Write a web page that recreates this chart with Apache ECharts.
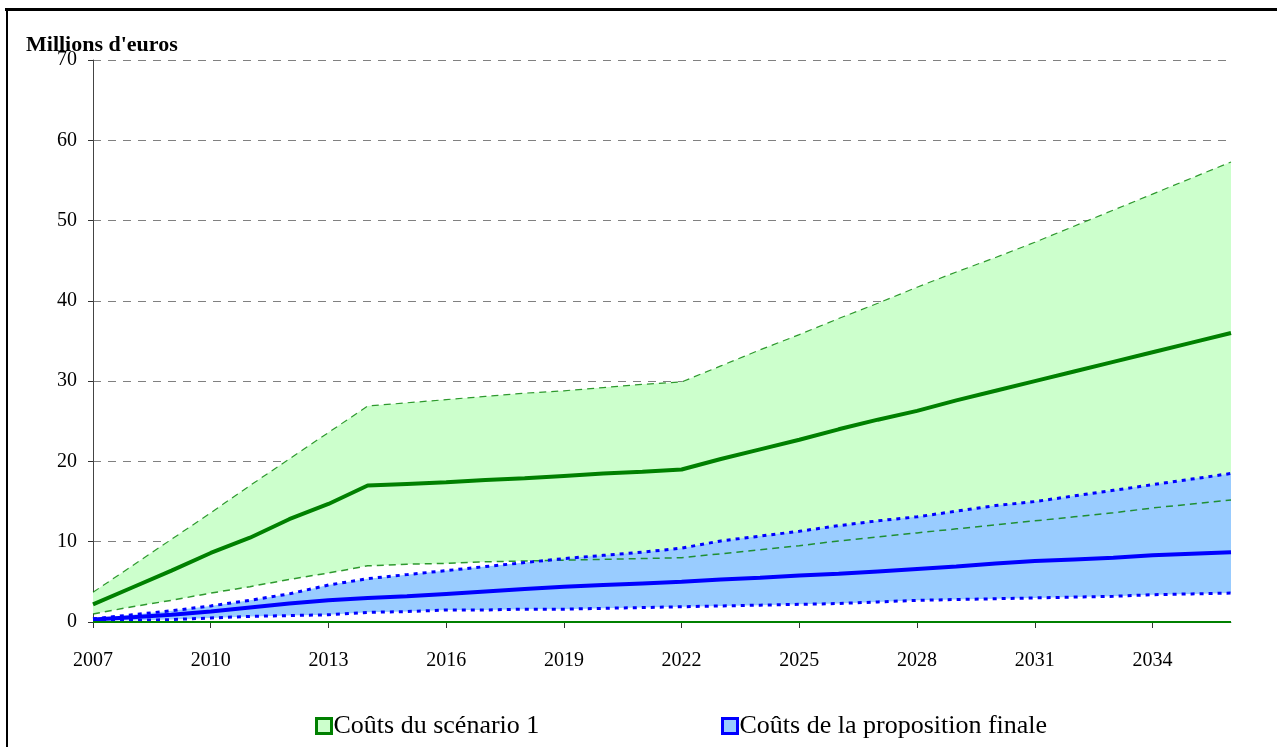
<!DOCTYPE html>
<html>
<head>
<meta charset="utf-8">
<script src="https://cdn.jsdelivr.net/npm/echarts@6/dist/echarts.min.js"></script>
<style>
  html, body { margin: 0; padding: 0; background: #fff; }
  #chart { width: 1277px; height: 747px; }
</style>
</head>
<body>
<div id="chart"></div>
<script>
// Years on the horizontal axis
const years = [];
for (let y = 2007; y <= 2036; y++) years.push(String(y));

// Scenario 1 costs (millions of euros): low, central, high
const scenarioLow = [1.0, 1.9, 2.7, 3.6, 4.4, 5.3, 6.1, 7.0, 7.2, 7.3, 7.5, 7.6, 7.7, 7.8, 7.9, 8.0,
  8.5, 9.0, 9.5, 10.1, 10.6, 11.1, 11.6, 12.1, 12.6, 13.1, 13.6, 14.2, 14.7, 15.2];
const scenarioMid = [2.2, 4.3, 6.4, 8.6, 10.5, 12.8, 14.7, 17.0, 17.2, 17.4, 17.7, 17.9, 18.2, 18.5, 18.7, 19.0,
  20.3, 21.5, 22.7, 24.0, 25.2, 26.3, 27.6, 28.8, 30.0, 31.2, 32.4, 33.6, 34.8, 36.0];
const scenarioHigh = [3.7, 7.0, 10.3, 13.6, 17.0, 20.3, 23.6, 26.9, 27.3, 27.7, 28.1, 28.5, 28.8, 29.2, 29.6, 29.9,
  31.9, 33.9, 35.8, 37.8, 39.7, 41.7, 43.6, 45.4, 47.3, 49.3, 51.3, 53.3, 55.3, 57.3];

// Final proposal costs (millions of euros): low, central, high
const finalLow = [0.2, 0.2, 0.3, 0.5, 0.7, 0.8, 0.9, 1.2, 1.3, 1.5, 1.5, 1.6, 1.6, 1.7, 1.8, 1.9,
  2.0, 2.1, 2.2, 2.3, 2.5, 2.7, 2.8, 2.9, 3.0, 3.1, 3.2, 3.4, 3.5, 3.6];
const finalMid = [0.3, 0.6, 0.9, 1.3, 1.8, 2.3, 2.7, 3.0, 3.2, 3.5, 3.8, 4.1, 4.4, 4.6, 4.8, 5.0,
  5.3, 5.5, 5.8, 6.0, 6.3, 6.6, 6.9, 7.3, 7.6, 7.8, 8.0, 8.3, 8.5, 8.7];
const finalHigh = [0.4, 0.9, 1.4, 2.0, 2.7, 3.5, 4.6, 5.4, 5.9, 6.4, 6.9, 7.4, 7.9, 8.3, 8.7, 9.2,
  10.1, 10.7, 11.3, 12.0, 12.6, 13.1, 13.8, 14.5, 15.0, 15.7, 16.4, 17.1, 17.8, 18.5];

const zeroLine = years.map(() => 0);

const seriesNames = ['Coûts du scénario 1', 'Coûts de la proposition finale'];

const GREEN = '#008000';
const BLUE = '#0000ff';
const GREEN_FILL = '#ccffcc';
const BLUE_FILL = '#99ccff';
const FONT = '"Liberation Serif", "DejaVu Serif", serif';

// band thickness for the stacked areas
const diff = (hi, lo) => hi.map((v, i) => Math.round((v - lo[i]) * 10) / 10);

const hidden = { lineStyle: { width: 0, opacity: 0 }, showSymbol: false, symbol: 'none' };

const chart = echarts.init(document.getElementById('chart'), null, { renderer: 'canvas' });

const legendText = { fontFamily: FONT, fontSize: 26, color: '#000', padding: [0, 0, 0, -3] };

chart.setOption({
  animation: false,
  backgroundColor: '#ffffff',
  title: {
    text: "Millions d'euros",
    left: 21, top: 29,
    textStyle: { fontFamily: FONT, fontWeight: 'bold', fontSize: 22, color: '#000' }
  },
  grid: { left: 93, right: 46, top: 60, bottom: 125, containLabel: false },
  legend: [
    {
      left: 310, top: 708,
      icon: 'rect', itemWidth: 15, itemHeight: 15, itemGap: 10,
      textStyle: legendText,
      data: [{ name: seriesNames[0], itemStyle: { color: GREEN_FILL, borderColor: GREEN, borderWidth: 3 } }]
    },
    {
      left: 716, top: 708,
      icon: 'rect', itemWidth: 15, itemHeight: 15, itemGap: 10,
      textStyle: legendText,
      data: [{ name: seriesNames[1], itemStyle: { color: BLUE_FILL, borderColor: BLUE, borderWidth: 3 } }]
    }
  ],
  xAxis: {
    type: 'category',
    data: years,
    boundaryGap: false,
    axisLine: { lineStyle: { color: '#777', width: 1 } },
    axisTick: { interval: 2, length: 6, lineStyle: { color: '#333' } },
    axisLabel: { interval: 2, margin: 29, fontFamily: FONT, fontSize: 20, color: '#000' },
    splitLine: { show: false }
  },
  yAxis: {
    type: 'value',
    min: 0, max: 70, interval: 10,
    axisLine: { show: true, lineStyle: { color: '#444', width: 1 } },
    axisTick: { show: true, length: 5, lineStyle: { color: '#333' } },
    axisLabel: { margin: 16, fontFamily: FONT, fontSize: 20, color: '#000' },
    splitLine: { show: true, lineStyle: { color: '#808080', type: [8, 7], width: 1 } }
  },
  graphic: [
    { type: 'line', shape: { x1: 5, y1: 9.5, x2: 1277, y2: 9.5 }, style: { stroke: '#000', lineWidth: 3 }, z: 100 },
    { type: 'line', shape: { x1: 7, y1: 8, x2: 7, y2: 747 }, style: { stroke: '#000', lineWidth: 2 }, z: 100 }
  ],
  series: [
    // scenario 1 band
    Object.assign({ type: 'line', name: 'scenarioBase', stack: 'scen', data: scenarioLow, z: 1, silent: true }, hidden),
    Object.assign({ type: 'line', name: seriesNames[0], stack: 'scen', data: diff(scenarioHigh, scenarioLow), z: 1,
      areaStyle: { color: GREEN_FILL, opacity: 1 }, itemStyle: { color: GREEN_FILL } }, hidden),
    // final proposal band
    Object.assign({ type: 'line', name: 'finalBase', stack: 'fin', data: finalLow, z: 2, silent: true }, hidden),
    Object.assign({ type: 'line', name: seriesNames[1], stack: 'fin', data: diff(finalHigh, finalLow), z: 2,
      areaStyle: { color: BLUE_FILL, opacity: 1 }, itemStyle: { color: BLUE_FILL } }, hidden),
    // band edges
    { type: 'line', name: 'scenarioHigh', data: scenarioHigh, symbol: 'none', z: 3,
      lineStyle: { color: GREEN, width: 1.2, type: [7, 5], opacity: 0.8 } },
    { type: 'line', name: 'scenarioLow', data: scenarioLow, symbol: 'none', z: 3,
      lineStyle: { color: GREEN, width: 1.5, type: [7, 5], opacity: 0.8 } },
    { type: 'line', name: 'finalHigh', data: finalHigh, symbol: 'none', z: 4,
      lineStyle: { color: BLUE, width: 3, type: [4, 5] } },
    { type: 'line', name: 'finalLow', data: finalLow, symbol: 'none', z: 4,
      lineStyle: { color: BLUE, width: 3, type: [4, 5] } },
    // central estimates
    { type: 'line', name: 'scenarioMid', data: scenarioMid, symbol: 'none', z: 5,
      lineStyle: { color: GREEN, width: 4 } },
    { type: 'line', name: 'finalMid', data: finalMid, symbol: 'none', z: 5,
      lineStyle: { color: BLUE, width: 4 } },
    // baseline
    { type: 'line', name: 'zero', data: zeroLine, symbol: 'none', z: 6,
      lineStyle: { color: GREEN, width: 2 } }
  ]
});
</script>
</body>
</html>
